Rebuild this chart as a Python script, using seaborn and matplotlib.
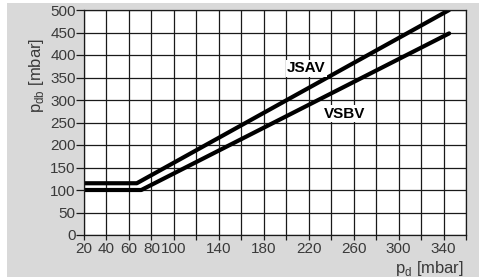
import numpy as np
import pandas as pd
import matplotlib
matplotlib.use("Agg")
import matplotlib.pyplot as plt
from matplotlib.patches import Rectangle
import seaborn as sns

# Data
jsav_x = [20, 67, 345]
jsav_y = [115, 115, 500]
vsbv_x = [20, 71, 345]
vsbv_y = [100, 100, 448]
series_names = ["JSAV", "VSBV"]

x_ticks = list(range(20, 361, 20))
x_tick_labels = ["20", "40", "60", "80", "100", "", "140", "", "180", "", "220", "",
                 "260", "", "300", "", "340", ""]
y_ticks = list(range(0, 501, 50))
y_tick_labels = [str(v) for v in y_ticks]

df = pd.DataFrame({
    "pd": jsav_x + vsbv_x,
    "pdb": jsav_y + vsbv_y,
    "series": [series_names[0]] * len(jsav_x) + [series_names[1]] * len(vsbv_x),
})

sns.set_style("white")
plt.rcParams["font.family"] = ["Liberation Sans", "DejaVu Sans"]
plt.rcParams["mathtext.fontset"] = "custom"
plt.rcParams["mathtext.rm"] = "Liberation Sans"

W, H = 484, 280
fig = plt.figure(figsize=(W / 100, H / 100), dpi=100)
fig.patch.set_facecolor("white")
fig.patches.append(Rectangle((7 / W, 3 / H), (479 - 7) / W, (277 - 3) / H,
                             transform=fig.transFigure, facecolor="#d9d9d9",
                             edgecolor="none", zorder=-10))

ax = fig.add_axes([84 / W, 1 - 235 / H, (466 - 84) / W, (235 - 10) / H])
ax.set_facecolor("white")

sns.lineplot(data=df, x="pd", y="pdb", hue="series", palette=["black", "black"],
             linewidth=3.0, legend=False, ax=ax, estimator=None, sort=False)

ax.set_xlim(20, 360)
ax.set_ylim(0, 500)
ax.set_xticks(x_ticks)
ax.set_xticklabels(x_tick_labels)
ax.set_yticks(y_ticks)
ax.set_yticklabels(y_tick_labels)
ax.grid(True, color="#1a1a1a", linewidth=0.9)
ax.set_axisbelow(True)
for s in ax.spines.values():
    s.set_visible(True)
    s.set_color("#1a1a1a")
    s.set_linewidth(0.9)
ax.tick_params(axis="x", direction="out", length=3.5, width=0.9, color="#1a1a1a",
               pad=1.5, labelsize=11, labelcolor="#3a3a3a", bottom=True)
ax.tick_params(axis="y", direction="out", length=5.5, width=0.9, color="#1a1a1a",
               pad=0.5, labelsize=11, labelcolor="#3a3a3a", left=True)
ax.set_xlabel("")
ax.set_ylabel("")

fig.text(464 / W, 1 - 268 / H, r"p$_\mathregular{d}$ [mbar]", ha="right", va="center",
         fontsize=12, color="#3a3a3a")
fig.text(36 / W, 1 - 38 / H, r"p$_\mathregular{db}$ [mbar]", ha="center", va="top",
         rotation=90, fontsize=12, color="#3a3a3a")

ax.text(218, 370, "JSAV", fontsize=11, fontweight="bold", ha="center", va="center",
        color="black", bbox=dict(facecolor="white", edgecolor="none", pad=1), zorder=5)
ax.text(252, 270, "VSBV", fontsize=11, fontweight="bold", ha="center", va="center",
        color="black", bbox=dict(facecolor="white", edgecolor="none", pad=1), zorder=5)

fig.savefig("out.png", dpi=100, facecolor=fig.get_facecolor())
